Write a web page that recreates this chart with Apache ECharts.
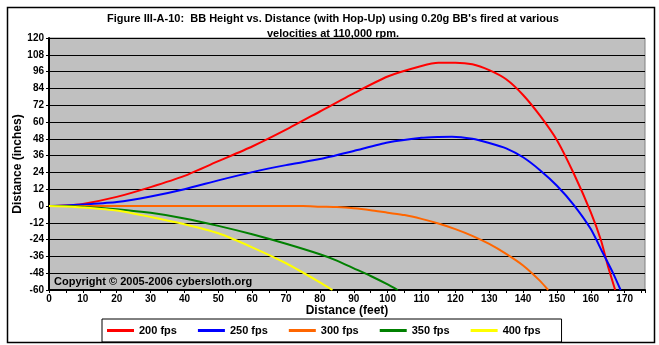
<!DOCTYPE html>
<html><head><meta charset="utf-8">
<script src="https://cdn.jsdelivr.net/npm/echarts@6/dist/echarts.min.js"></script>
<style>html,body{margin:0;padding:0;background:#fff}#c{width:659px;height:345px}</style>
</head><body><div id="c"></div>
<script>
const seriesNames = ['200 fps', '250 fps', '300 fps', '350 fps', '400 fps'];
const seriesColors = ['#FF0000', '#0000FF', '#FF6600', '#008000', '#FFFF00'];

const x200 = [0, 5, 10, 20, 30, 40, 50, 60, 70, 80, 90, 100, 110, 115, 120, 125, 130, 135, 140, 145, 150, 155, 160, 163, 165, 167.2];
const y200 = [0, 0.4, 1.5, 6.5, 13.5, 21.5, 32, 42.5, 54.5, 67.5, 80.5, 92.5, 100, 102.3, 102.3, 101.2, 97, 90.5, 79.3, 64.5, 47, 23, -4.5, -24.5, -42.5, -60];

const x250 = [0, 5, 10, 20, 30, 40, 50, 60, 70, 80, 90, 100, 110, 115, 119, 125, 130, 135, 140, 145, 150, 155, 160, 163.6, 166.6, 168.8];
const y250 = [0, 0.3, 1, 2.8, 6.8, 12, 18.3, 24.2, 29.2, 33.5, 39.3, 45.3, 48.7, 49.3, 49.5, 48, 45, 41.2, 34.8, 25.6, 14.5, 0.7, -16.5, -33.8, -48.1, -60];

const x300 = [0, 20, 40, 60, 75, 80, 85, 90, 95, 100, 105, 110, 115, 120, 125, 130, 135, 140, 145, 147.4];
const y300 = [0, 0, 0, 0, 0, -0.5, -0.8, -1.6, -3, -4.8, -6.5, -9.2, -12.5, -16.5, -21.3, -27.1, -34.2, -42.5, -53.5, -60];

const x350 = [0, 5, 10, 20, 30, 40, 50, 60, 70, 80, 85, 90, 95, 100, 103];
const y350 = [0, 0, -0.5, -2.3, -4.9, -8.9, -14.2, -20.2, -27, -34.5, -39, -44.5, -50, -56, -60];

const x400 = [0, 5, 10, 20, 30, 40, 50, 60, 70, 80, 83.7];
const y400 = [0, -0.3, -1, -3.2, -7.8, -13, -19.5, -29.5, -40.9, -54.5, -60];

const xs = [x200, x250, x300, x350, x400];
const ys = [y200, y250, y300, y350, y400];

const titleText = "Figure III-A-10:  BB Height vs. Distance (with Hop-Up) using 0.20g BB's fired at various\nvelocities at 110,000 rpm.";
const copyrightText = 'Copyright \u00A9 2005-2006 cybersloth.org';
const FONT = 'Liberation Sans, Arial, sans-serif';

const chart = echarts.init(document.getElementById('c'), null, {renderer: 'canvas'});
chart.setOption({
  backgroundColor: '#ffffff',
  animation: false,
  title: {
    text: titleText, left: 328, textAlign: 'center', top: 6,
    textStyle: {fontFamily: FONT, fontWeight: 'bold', fontSize: 11, lineHeight: 15, color: '#000'}
  },
  legend: {
    data: seriesNames, left: 102, top: 319, orient: 'horizontal',
    icon: 'rect', itemWidth: 27, itemHeight: 3, itemGap: 21,
    padding: [6, 21, 6, 5],
    borderColor: '#000', borderWidth: 1, backgroundColor: '#fff',
    textStyle: {fontFamily: FONT, fontWeight: 'bold', fontSize: 11, color: '#000'}
  },
  grid: {left: 49, top: 38, width: 596, height: 252, show: true, backgroundColor: '#C0C0C0', borderColor: '#808080', borderWidth: 1},
  xAxis: {
    type: 'value', min: 0, max: 176, interval: 10,
    name: 'Distance (feet)', nameLocation: 'middle', nameGap: 15, nameMoveOverlap: false,
    nameTextStyle: {fontFamily: FONT, fontWeight: 'bold', fontSize: 12, color: '#000'},
    axisLine: {show: true, onZero: false, lineStyle: {color: '#000', width: 2}},
    axisTick: {show: true, length: 3, lineStyle: {color: '#000'}},
    minorTick: {show: true, splitNumber: 2, length: 3, lineStyle: {color: '#000'}},
    axisLabel: {fontFamily: FONT, fontWeight: 'bold', fontSize: 10, color: '#000', margin: 4, showMaxLabel: false},
    splitLine: {show: false}
  },
  yAxis: {
    type: 'value', min: -60, max: 120, interval: 12,
    name: 'Distance (inches)', nameLocation: 'middle', nameGap: 25, nameRotate: 90, nameMoveOverlap: false,
    nameTextStyle: {fontFamily: FONT, fontWeight: 'bold', fontSize: 12, color: '#000'},
    axisLine: {show: true, onZero: false, lineStyle: {color: '#000', width: 2}},
    axisTick: {show: true, length: 3, lineStyle: {color: '#000'}},
    axisLabel: {fontFamily: FONT, fontWeight: 'bold', fontSize: 10, color: '#000', margin: 5},
    splitLine: {show: true, lineStyle: {color: '#000', width: 1}}
  },
  graphic: [
    {type: 'rect', left: 5, top: 5, shape: {width: 647, height: 335}, style: {fill: 'none', stroke: '#000', lineWidth: 1.5}, z: 100, silent: true},
    {type: 'text', left: 54, top: 276, style: {text: copyrightText, font: 'bold 11px ' + FONT, fill: '#000'}, z: 100}
  ],
  series: seriesNames.map((n, i) => ({
    name: n, type: 'line', showSymbol: false, symbol: 'none',
    smooth: 0.2,
    lineStyle: {color: seriesColors[i], width: 2},
    itemStyle: {color: seriesColors[i]},
    data: xs[i].map((x, j) => [x, ys[i][j]])
  }))
});
</script></body></html>
